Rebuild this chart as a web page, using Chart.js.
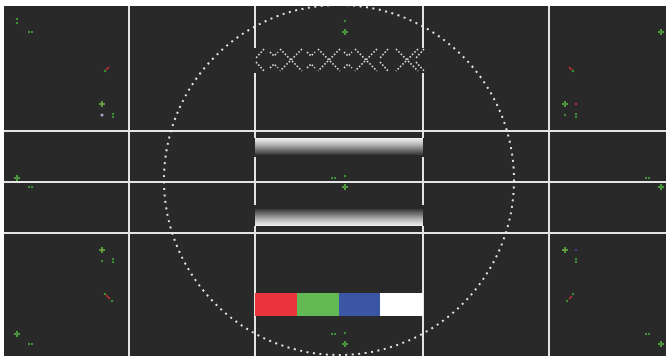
<!DOCTYPE html>
<html>
<head>
<meta charset="utf-8">
<script src="https://cdn.jsdelivr.net/npm/chart.js"></script>
<style>
  html, body { margin: 0; padding: 0; background: #fff; }
  #wrap { position: absolute; left: 4px; top: 6px; width: 662px; height: 350px; background: #292929; }
</style>
</head>
<body>
<div id="wrap"><canvas id="myChart" width="662" height="350"></canvas></div>
<script>
// picture units: x 4..666, y 6..356, y grows downward
const xRange = [4, 666];
const yRange = [6, 356];

const hLineY = [131, 182, 233];
const vLineFullX = [129, 549];
const vLineSplitX = [255, 423];
const vLineSpans = [[6, 48], [73, 138], [157, 205], [226, 356]];

const barX = [255, 423];
const gradTopY = [138, 155];
const gradBottomY = [209, 226];

const colorBarEdges = [255, 297, 339, 380, 423];
const colorBarY = [293, 316];
const colorBarColors = ['#e9343b', '#62b953', '#3a56a5', '#ffffff'];

const circleCenter = [339, 180];
const circleRadius = 175;

const glyphY = [49, 60, 71];
const bigXCenters = [291, 329, 366, 407];
const smallXCenters = [274, 311, 348];
const chevronTips = [256, 380, 416];

const plusGreen = [[17, 178], [345, 32], [661, 32], [345, 187], [345, 344], [17, 334], [661, 187], [661, 344], [565, 104]];
const plusOrange = [[102, 104], [102, 250], [565, 250]];
const greenDots = [
  [17, 19], [17, 23], [29, 32], [32, 32], [345, 21],
  [332, 178], [335, 178], [345, 176], [29, 187], [32, 187], [646, 178], [649, 178],
  [113, 114], [113, 117], [565, 115], [576, 114], [576, 117],
  [102, 261], [113, 259], [113, 262], [576, 259], [576, 262],
  [29, 344], [32, 344], [332, 334], [335, 334], [345, 333], [646, 334], [649, 334],
  [105, 71], [573, 71], [105, 294], [112, 301], [573, 294], [567, 301]
];
const redTicks = [[[106, 70], [109, 67]], [[569, 67], [572, 70]], [[106, 295], [110, 299]], [[572, 296], [569, 299]]];
const redDots = [[576, 104]];
const blueDots = [[576, 250]];
const mixDots = [[102, 115]];

const LINE = '#e4e4e4';
const datasets = [];
const pts = arr => arr.map(([x, y]) => ({x, y}));

function seg(points, opts) {
  datasets.push(Object.assign({
    data: pts(points), pointRadius: 0, fill: false, tension: 0,
    borderColor: LINE, borderWidth: 2, order: 5
  }, opts));
}
function marks(points, opts) {
  datasets.push(Object.assign({
    data: pts(points), showLine: false, pointBorderWidth: 0, order: 1
  }, opts));
}
function vGradient(y0, y1, stops) {
  return (ctx) => {
    const chart = ctx.chart;
    if (!chart.chartArea || !chart.scales.y) return '#888';
    const a = chart.scales.y.getPixelForValue(y0);
    const b = chart.scales.y.getPixelForValue(y1);
    const g = chart.ctx.createLinearGradient(0, a, 0, b);
    stops.forEach(([o, c]) => g.addColorStop(o, c));
    return g;
  };
}
function rect(x0, x1, y0, y1, bg) {
  seg([[x0, y0], [x1, y0], [x1, y1], [x0, y1], [x0, y0]],
    {fill: 'shape', borderWidth: 0, borderColor: 'transparent', backgroundColor: bg, order: 4});
}

// grid lines
hLineY.forEach(y => seg([[xRange[0], y], [xRange[1], y]]));
vLineFullX.forEach(x => seg([[x, yRange[0]], [x, yRange[1]]]));
vLineSplitX.forEach(x => vLineSpans.forEach(([a, b]) => seg([[x, a], [x, b]])));

// gradient bars
rect(barX[0], barX[1], gradTopY[0], gradTopY[1],
  vGradient(gradTopY[0], gradTopY[1], [[0, '#f2f2f2'], [0.35, '#bdbdbd'], [1, '#343434']]));
rect(barX[0], barX[1], gradBottomY[0], gradBottomY[1],
  vGradient(gradBottomY[0], gradBottomY[1], [[0, '#343434'], [0.65, '#bdbdbd'], [1, '#f2f2f2']]));

// colour bar
colorBarColors.forEach((c, i) => rect(colorBarEdges[i], colorBarEdges[i + 1], colorBarY[0], colorBarY[1], c));

// dotted glyph row
const glyph = {borderColor: '#e0e0e0', borderWidth: 1.6, borderDash: [1.6, 1.8], order: 3};
bigXCenters.forEach(c => {
  seg([[c - 11, glyphY[0]], [c + 11, glyphY[2]]], glyph);
  seg([[c + 11, glyphY[0]], [c - 11, glyphY[2]]], glyph);
});
smallXCenters.forEach(c => {
  seg([[c - 4, glyphY[0] + 3], [c, glyphY[1] - 4], [c + 4, glyphY[0] + 3]], glyph);
  seg([[c - 4, glyphY[2] - 3], [c, glyphY[1] + 4], [c + 4, glyphY[2] - 3]], glyph);
});
chevronTips.forEach(t => {
  seg([[t + 8, glyphY[0]], [t, glyphY[1] - 2]], glyph);
  seg([[t, glyphY[1] + 2], [t + 8, glyphY[2]]], glyph);
});

// dotted circle
datasets.push({
  type: 'bubble', data: [{x: circleCenter[0], y: circleCenter[1], r: circleRadius}],
  backgroundColor: 'transparent', borderColor: '#e6e6e6', borderWidth: 2,
  dash: [2, 4.5], order: 2
});

// small markers
redTicks.forEach(t => seg(t, {borderColor: '#c43131', borderWidth: 1.5, order: 1}));
marks(greenDots, {pointStyle: 'rect', pointRadius: 1.5, pointBackgroundColor: '#3f8d37'});
marks(plusGreen.concat(plusOrange), {pointStyle: 'cross', pointRadius: 3, pointBorderWidth: 2, pointBorderColor: '#4e9e41'});
marks(plusGreen, {pointStyle: 'rect', pointRadius: 0.8, pointBackgroundColor: '#2e5a2a', order: 0});
marks(plusOrange, {pointStyle: 'rect', pointRadius: 1, pointBackgroundColor: '#c8892f', order: 0});
marks(redDots, {pointStyle: 'rect', pointRadius: 1.5, pointBackgroundColor: '#c42a2a'});
marks(blueDots, {pointStyle: 'rect', pointRadius: 1.5, pointBackgroundColor: '#34449a'});
marks(mixDots, {pointStyle: 'circle', pointRadius: 1.5, pointBackgroundColor: '#a8a8d0'});

// dotted stroke for the circle
const dashPlugin = {
  id: 'dash',
  beforeDatasetDraw(chart, args) {
    const d = chart.data.datasets[args.index];
    if (d.dash) chart.ctx.setLineDash(d.dash);
  },
  afterDatasetDraw(chart) { chart.ctx.setLineDash([]); }
};

new Chart(document.getElementById('myChart'), {
  type: 'line',
  data: {datasets},
  options: {
    responsive: false,
    animation: false,
    events: [],
    layout: {padding: 0, autoPadding: false},
    plugins: {legend: {display: false}, tooltip: {enabled: false}},
    scales: {
      x: {type: 'linear', min: xRange[0], max: xRange[1], display: false},
      y: {type: 'linear', min: yRange[0], max: yRange[1], reverse: true, display: false}
    }
  },
  plugins: [dashPlugin]
});
</script>
</body>
</html>
